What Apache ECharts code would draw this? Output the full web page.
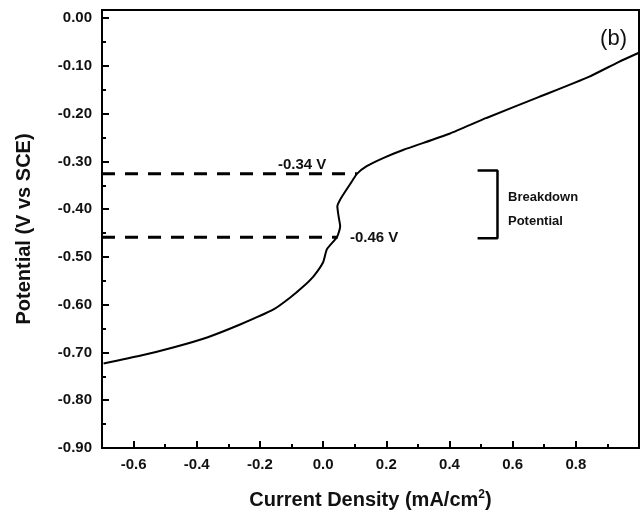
<!DOCTYPE html>
<html>
<head>
<meta charset="utf-8">
<script src="https://cdn.jsdelivr.net/npm/echarts@6/dist/echarts.min.js"></script>
<style>
html,body{margin:0;padding:0;background:#fff;}
#chart{width:644px;height:510px;}
</style>
</head>
<body>
<div id="chart"></div>
<script>
// ---- data ----
const currentDensity = [-0.695, -0.58, -0.472, -0.365, -0.261, -0.157, -0.104, -0.063, -0.031, 0.000, 0.012, 0.044, 0.054, 0.049, 0.045, 0.054, 0.070, 0.091, 0.107, 0.138, 0.190, 0.253, 0.400, 0.517, 0.684, 0.841, 0.935, 0.998];
const potential      = [-0.723, -0.707, -0.689, -0.668, -0.641, -0.610, -0.585, -0.562, -0.541, -0.511, -0.484, -0.458, -0.436, -0.415, -0.394, -0.380, -0.363, -0.342, -0.326, -0.310, -0.293, -0.276, -0.242, -0.209, -0.165, -0.123, -0.092, -0.073];

// dashed guide lines (potential level, x range)
const guideUpperX = [-0.7, 0.107];
const guideUpperY = [-0.326, -0.326];
const guideLowerX = [-0.7, 0.046];
const guideLowerY = [-0.459, -0.459];

// bracket marking breakdown potential region
const bracketX = [0.489, 0.552, 0.552, 0.489];
const bracketY = [-0.319, -0.319, -0.461, -0.461];

const xTickLabels = ['-0.6', '-0.4', '-0.2', '0.0', '0.2', '0.4', '0.6', '0.8'];
const yTickLabels = ['0.00', '-0.10', '-0.20', '-0.30', '-0.40', '-0.50', '-0.60', '-0.70', '-0.80', '-0.90'];

const upperLabel = '-0.34 V';
const lowerLabel = '-0.46 V';
const bracketLines = ['Breakdown', 'Potential'];
const panelTag = '(b)';

const X_MIN = -0.7, X_MAX = 1.0, Y_MIN = -0.9, Y_MAX = 0.017;

// ---- layout ----
const FONT = '"Liberation Sans", Arial, Helvetica, sans-serif';
const W = 644, H = 510;
const gl = 102, gr = 5, gt = 10, gb = 62;
const plotW = W - gl - gr;
const shiftedLeft = gl + plotW * ((-0.6 - X_MIN) / (X_MAX - X_MIN));

function zip(a, b) { return a.map((v, i) => [v, b[i]]); }

const chart = echarts.init(document.getElementById('chart'), null, {renderer: 'canvas'});

const option = {
  backgroundColor: '#fff',
  animation: false,
  grid: [
    {left: gl, right: gr, top: gt, bottom: gb, outerBoundsMode: 'none', containLabel: false, show: true, borderColor: '#000', borderWidth: 2, backgroundColor: 'transparent'},
    {left: shiftedLeft, right: gr, top: gt, bottom: gb, outerBoundsMode: 'none', containLabel: false},
    {left: gl, right: gr, top: gt, bottom: gb, outerBoundsMode: 'none', containLabel: false}
  ],
  xAxis: [
    {
      gridIndex: 0, type: 'value', min: X_MIN, max: X_MAX, interval: 0.1,
      axisLine: {show: true, onZero: false, lineStyle: {color: '#000', width: 2}},
      axisTick: {show: true, inside: true, length: 4, lineStyle: {color: '#000', width: 2}},
      axisLabel: {show: false},
      splitLine: {show: false},
      name: 'Current Density (mA/cm{sup|2})',
      nameLocation: 'middle', nameGap: 41,
      nameTextStyle: {fontFamily: FONT, fontWeight: 'bold', fontSize: 20, color: '#111', verticalAlign: 'top',
        rich: {sup: {fontFamily: FONT, fontWeight: 'bold', fontSize: 12, color: '#111', padding: [0, 0, 10, 0]}}}
    },
    {
      gridIndex: 1, type: 'value', min: -0.6, max: X_MAX, interval: 0.2,
      axisLine: {show: false, onZero: false},
      axisTick: {show: true, inside: true, length: 7, lineStyle: {color: '#000', width: 2}},
      axisLabel: {show: true, margin: 9, fontFamily: FONT, fontWeight: 'bold', fontSize: 15, color: '#111',
        formatter: function (v) {
          let s = v.toFixed(1);
          if (s === '-0.0') s = '0.0';
          return xTickLabels.indexOf(s) >= 0 ? s : '';
        }},
      splitLine: {show: false}
    },
    {
      gridIndex: 2, type: 'value', min: X_MIN, max: X_MAX, show: false
    }
  ],
  yAxis: [
    {
      gridIndex: 0, type: 'value', min: Y_MIN, max: Y_MAX, interval: 0.05,
      axisLine: {show: true, onZero: false, lineStyle: {color: '#000', width: 2}},
      axisTick: {show: true, inside: true, length: 4, lineStyle: {color: '#000', width: 2}},
      axisLabel: {show: true, margin: 10, fontFamily: FONT, fontWeight: 'bold', fontSize: 15, color: '#111',
        formatter: function (v) {
          let s = v.toFixed(2);
          if (s === '-0.00') s = '0.00';
          return yTickLabels.indexOf(s) >= 0 ? s : '';
        }},
      splitLine: {show: false},
      name: 'Potential (V vs SCE)',
      nameLocation: 'middle', nameGap: 68, nameRotate: 90,
      nameTextStyle: {fontFamily: FONT, fontWeight: 'bold', fontSize: 20, color: '#111'}
    },
    {
      gridIndex: 1, type: 'value', min: Y_MIN, max: Y_MAX, show: false
    },
    {
      gridIndex: 2, type: 'value', min: Y_MIN, max: Y_MAX, interval: 0.1,
      axisLine: {show: false, onZero: false},
      axisTick: {show: true, inside: true, length: 7, lineStyle: {color: '#000', width: 2}},
      axisLabel: {show: false},
      splitLine: {show: false}
    }
  ],
  series: [
    {
      type: 'line', xAxisIndex: 0, yAxisIndex: 0,
      data: zip(currentDensity, potential),
      showSymbol: false, smooth: 0.2,
      lineStyle: {color: '#000', width: 2}
    },
    {
      type: 'line', xAxisIndex: 0, yAxisIndex: 0,
      data: zip(guideUpperX, guideUpperY),
      showSymbol: false,
      lineStyle: {color: '#000', width: 3, type: [13, 10]}
    },
    {
      type: 'line', xAxisIndex: 0, yAxisIndex: 0,
      data: zip(guideLowerX, guideLowerY),
      showSymbol: false,
      lineStyle: {color: '#000', width: 3, type: [13, 10]}
    },
    {
      type: 'line', xAxisIndex: 0, yAxisIndex: 0,
      data: zip(bracketX, bracketY),
      showSymbol: false,
      lineStyle: {color: '#000', width: 2.5}
    }
  ],
  graphic: [
    {type: 'text', style: {x: 278, y: 165, text: upperLabel, fontFamily: FONT, fontWeight: 'bold', fontSize: 15, fill: '#111', verticalAlign: 'middle', align: 'left'}},
    {type: 'text', style: {x: 350, y: 238, text: lowerLabel, fontFamily: FONT, fontWeight: 'bold', fontSize: 15, fill: '#111', verticalAlign: 'middle', align: 'left'}},
    {type: 'text', style: {x: 508, y: 197, text: bracketLines[0], fontFamily: FONT, fontWeight: 'bold', fontSize: 13, fill: '#111', verticalAlign: 'middle', align: 'left'}},
    {type: 'text', style: {x: 508, y: 221, text: bracketLines[1], fontFamily: FONT, fontWeight: 'bold', fontSize: 13, fill: '#111', verticalAlign: 'middle', align: 'left'}},
    {type: 'text', style: {x: 627, y: 39, text: panelTag, fontFamily: FONT, fontSize: 22, fill: '#111', verticalAlign: 'middle', align: 'right'}}
  ]
};

chart.setOption(option);
</script>
</body>
</html>
